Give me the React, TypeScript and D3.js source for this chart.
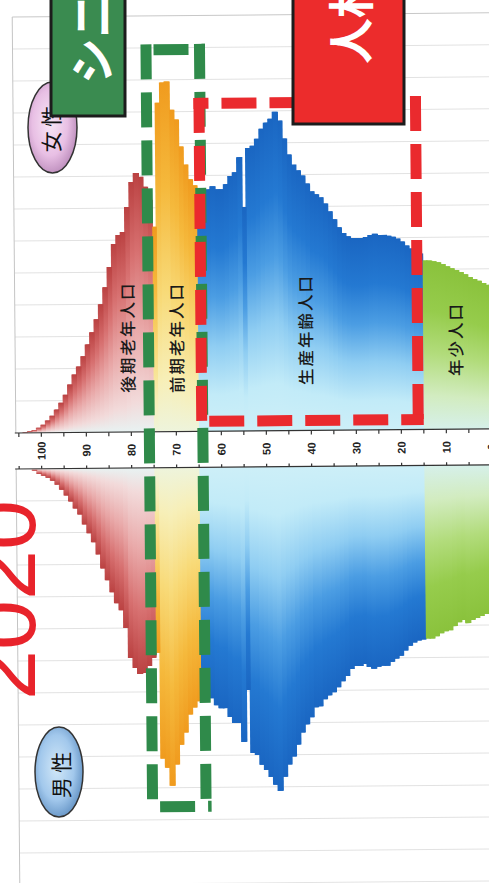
import React from "react";
import * as d3 from "d3";

const WIDTH = 489;
const HEIGHT = 883;

// Population by single year of age, 2020 (thousand persons). Index = age.
const femalePop: number[] = [
  // 0-14
  450, 456, 463, 469, 475, 484, 491, 497, 503, 509, 516, 522, 525, 528, 528,
  // 15-64
  550, 556, 566, 575, 588, 597, 603, 606, 609, 609,
  613, 609, 603, 600, 600, 600, 606, 616, 634, 659,
  684, 709, 728, 738, 747, 772, 797, 813, 831, 863,
  913, 969, 997, 975, 963, 944, 913, 891, 884, 700,
  856, 809, 797, 772, 756, 756, 766, 756, 747, 753,
  // 65-74
  769, 788, 834, 891, 975, 1006, 1094, 1091, 1028, 641,
  // 75-103
  725, 766, 797, 809, 781, 703, 625, 616, 588, 516,
  453, 400, 353, 313, 275, 238, 206, 181, 150, 118,
  93, 72, 53, 38, 25, 16, 9, 5, 2,
];

const malePop: number[] = [
  // 0-14
  459, 466, 472, 478, 484, 494, 484, 491, 503, 516, 519, 525, 534, 541, 541,
  // 15-64
  544, 547, 553, 563, 578, 594, 603, 613, 625, 625,
  628, 634, 628, 619, 625, 625, 634, 656, 672, 691,
  706, 716, 728, 750, 753, 784, 806, 831, 869, 906,
  931, 969, 1013, 994, 969, 947, 931, 900, 894, 697,
  859, 800, 800, 781, 753, 753, 744, 722, 716, 713,
  // 65-74
  731, 750, 772, 828, 866, 928, 994, 938, 909, 578,
  // 75-101
  594, 619, 641, 644, 625, 594, 500, 444, 422, 388,
  350, 313, 269, 231, 203, 175, 144, 125, 103, 84,
  66, 50, 38, 28, 22, 16, 6,
];

const ageTickValues = d3.range(0, 106, 5);
const ageLabelValues = d3.range(0, 101, 10);
const gridValues = d3.range(100, 1301, 100);

const ageGroups = [
  { key: "young", label: "年少人口", from: 0, to: 14 },
  { key: "working", label: "生産年齢人口", from: 15, to: 64 },
  { key: "early", label: "前期老年人口", from: 65, to: 74 },
  { key: "late", label: "後期老年人口", from: 75, to: 120 },
];

// gradient stops per age group, from the axis (0) to the bar tip (1)
const groupStops: Record<string, [number, string][]> = {
  young: [[0, "#d6f0ea"], [0.2, "#d2ecc0"], [0.45, "#b2dc7c"], [0.7, "#96cc4c"], [1, "#8ac23c"]],
  working: [[0, "#cdeff8"], [0.15, "#c2ebf8"], [0.35, "#8fcdf2"], [0.55, "#4b9de3"], [0.75, "#2479d2"], [1, "#1a66c2"]],
  early: [[0, "#eef4dc"], [0.15, "#f7efb8"], [0.4, "#f8da78"], [0.7, "#f5b93c"], [1, "#f09b1e"]],
  late: [[0, "#e8f2f2"], [0.12, "#f2dada"], [0.4, "#e9a9a9"], [0.7, "#d77070"], [1, "#bb4242"]],
};

const labelPos: Record<string, [number, number]> = {
  young: [456, 341],
  working: [306, 330],
  early: [177, 337],
  late: [128, 336],
};

const groupOf = (age: number) => ageGroups.find((g) => age >= g.from && age <= g.to)!;

const DASH = "35 13";

function DashedBox({ x0, y0, x1, y1, w, color, offsets }: any) {
  const h = w / 2;
  const common = { stroke: color, strokeWidth: w, strokeDasharray: DASH, fill: "none" };
  return (
    <g>
      <line x1={x0 - h} y1={y0} x2={x1 + h} y2={y0} {...common} strokeDashoffset={offsets[0]} />
      <line x1={x1} y1={y0 - h} x2={x1} y2={y1 + h} {...common} strokeDashoffset={offsets[1]} />
      <line x1={x0 - h} y1={y1} x2={x1 + h} y2={y1} {...common} strokeDashoffset={offsets[2]} />
      <line x1={x0} y1={y0 - h} x2={x0} y2={y1 + h} {...common} strokeDashoffset={offsets[3]} />
    </g>
  );
}

export default function App() {
  const x = d3.scaleLinear().domain([0, 100]).range([491.5, 41.5]);
  const yF = d3.scaleLinear().domain([0, 1300]).range([431, 15]);
  const yM = d3.scaleLinear().domain([0, 1300]).range([467, 883]);

  const numFont = "'Liberation Sans', Arial, sans-serif";
  const jpFont = "'Noto Sans CJK JP', 'Noto Sans', sans-serif";

  // one rect per age; `pad` widens it so a first pass can sit under the seams
  const femaleBars = (pad: number, tag: string) =>
    femalePop.map((v, a) => (
      <rect
        key={`${tag}f${a}`}
        x={x(a + 1) - pad}
        width={x(a) - x(a + 1) + 2 * pad}
        y={yF(v)}
        height={yF(0) - yF(v)}
        fill={`url(#f-${groupOf(a).key})`}
      />
    ));
  const maleBars = (pad: number, tag: string) =>
    malePop.map((v, a) => (
      <rect
        key={`${tag}m${a}`}
        x={x(a + 1) - pad}
        width={x(a) - x(a + 1) + 2 * pad}
        y={yM(0)}
        height={yM(v) - yM(0)}
        fill={`url(#m-${groupOf(a).key})`}
      />
    ));

  return (
    <svg
      width={WIDTH}
      height={HEIGHT}
      viewBox={`0 0 ${WIDTH} ${HEIGHT}`}
      style={{ position: "absolute", left: 0, top: 0, display: "block", background: "#fff" }}
    >
      <defs>
        {ageGroups.map((g) => (
          <React.Fragment key={g.key}>
            <linearGradient id={`f-${g.key}`} x1="0" y1="1" x2="0" y2="0">
              {groupStops[g.key].map(([o, c], i) => (
                <stop key={i} offset={o} stopColor={c} />
              ))}
            </linearGradient>
            <linearGradient id={`m-${g.key}`} x1="0" y1="0" x2="0" y2="1">
              {groupStops[g.key].map(([o, c], i) => (
                <stop key={i} offset={o} stopColor={c} />
              ))}
            </linearGradient>
          </React.Fragment>
        ))}
        <radialGradient id="pinkBadge" cx="0.45" cy="0.45" r="0.6">
          <stop offset="0" stopColor="#f8e6f6" />
          <stop offset="0.6" stopColor="#e8bfe4" />
          <stop offset="1" stopColor="#b888b8" />
        </radialGradient>
        <radialGradient id="blueBadge" cx="0.45" cy="0.45" r="0.6">
          <stop offset="0" stopColor="#d2e8f8" />
          <stop offset="0.6" stopColor="#a2c8ec" />
          <stop offset="1" stopColor="#5f8fc2" />
        </radialGradient>
      </defs>

      <g transform="rotate(-0.5 245 450)">
        {/* plot frame and grid */}
        {gridValues.map((v) => (
          <line key={`gf${v}`} x1={16} x2={WIDTH + 5} y1={yF(v)} y2={yF(v)} stroke={v === 1300 ? "#c8c8c8" : "#e2e2e2"} strokeWidth={1} />
        ))}
        {gridValues.map((v) => (
          <line key={`gm${v}`} x1={16} x2={WIDTH + 5} y1={yM(v)} y2={yM(v)} stroke="#e2e2e2" strokeWidth={1} />
        ))}
        <line x1={16} x2={16} y1={yF(1300)} y2={yF(0)} stroke="#c4c4c4" />
        <line x1={16} x2={16} y1={yM(0)} y2={yM(1300)} stroke="#c4c4c4" />

        {/* bars: widened underlay, then the bars themselves */}
        <g>{femaleBars(0.9, "u")}</g>
        <g>{maleBars(0.9, "u")}</g>
        <g>{femaleBars(0.15, "b")}</g>
        <g>{maleBars(0.15, "b")}</g>

        {/* age axis band */}
        <rect x={15} y={yF(0)} width={WIDTH} height={yM(0) - yF(0)} fill="#fff" />
        <line x1={15} x2={WIDTH + 5} y1={yF(0)} y2={yF(0)} stroke="#333" strokeWidth={1.2} />
        <line x1={15} x2={WIDTH + 5} y1={yM(0)} y2={yM(0)} stroke="#333" strokeWidth={1.2} />
        {ageTickValues.map((a) => (
          <g key={`t${a}`}>
            <line x1={x(a)} x2={x(a)} y1={yF(0)} y2={yF(0) + 4} stroke="#333" strokeWidth={1.2} />
            <line x1={x(a)} x2={x(a)} y1={yM(0) - 3} y2={yM(0)} stroke="#333" strokeWidth={1.2} />
          </g>
        ))}
        {ageLabelValues.map((a) => (
          <text
            key={`l${a}`}
            transform={`translate(${x(a)},${(yF(0) + yM(0)) / 2}) rotate(-90)`}
            textAnchor="middle"
            dominantBaseline="central"
            fontFamily={numFont}
            fontWeight={700}
            fontSize={11}
            fill="#222"
          >
            {a}
          </text>
        ))}

        {/* age group labels */}
        {ageGroups.map((g) => (
          <text
            key={`gl${g.key}`}
            transform={`translate(${labelPos[g.key][0]},${labelPos[g.key][1]}) rotate(-90)`}
            textAnchor="middle"
            dominantBaseline="central"
            fontFamily={jpFont}
            fontWeight={500}
            fontSize={16.5}
            letterSpacing={2}
            fill="#1a1a1a"
          >
            {g.label}
          </text>
        ))}

        {/* highlight frames */}
        <DashedBox x0={149.5} y0={49} x1={203} y1={806} w={11} color="#2f8a4a" offsets={[35, 0, 35, 0]} />
        <DashedBox x0={202} y0={103} x1={418.5} y1={421} w={11} color="#ea2a2e" offsets={[20, 0, 35, 0]} />
      </g>

      {/* call-out boxes */}
      <ellipse cx={52.5} cy={127.5} rx={24.5} ry={45.5} fill="url(#pinkBadge)" stroke="#333" strokeWidth={1.5} />
      <text
        transform="translate(50,129) rotate(-90)"
        textAnchor="middle"
        dominantBaseline="central"
        fontFamily={jpFont}
        fontSize={21}
        fill="#111"
      >
        女 性
      </text>

      <rect x={51} y={-6} width={74} height={122} fill="#3a8b50" stroke="#1c1c1c" strokeWidth={3} />
      <text
        transform="translate(89,84) rotate(-90)"
        textAnchor="start"
        dominantBaseline="central"
        fontFamily={jpFont}
        fontWeight={700}
        fontSize={46}
        fill="#fff"
      >
        シニア
      </text>

      <rect x={293} y={-6} width={111} height={130} fill="#ec2c2c" stroke="#1c1c1c" strokeWidth={3} />
      <text
        transform="translate(348,64) rotate(-90)"
        textAnchor="start"
        dominantBaseline="central"
        fontFamily={jpFont}
        fontWeight={700}
        fontSize={46}
        fill="#fff"
      >
        人材
      </text>

      <ellipse cx={59} cy={772} rx={24} ry={45} fill="url(#blueBadge)" stroke="#333" strokeWidth={1.5} />
      <text
        transform="translate(60,775) rotate(-90)"
        textAnchor="middle"
        dominantBaseline="central"
        fontFamily={jpFont}
        fontSize={21}
        fill="#111"
      >
        男 性
      </text>

      <text
        transform="translate(35,600) rotate(-90)"
        textAnchor="middle"
        fontFamily={numFont}
        fontSize={90}
        fill="#e8232b"
      >
        2020
      </text>
    </svg>
  );
}
